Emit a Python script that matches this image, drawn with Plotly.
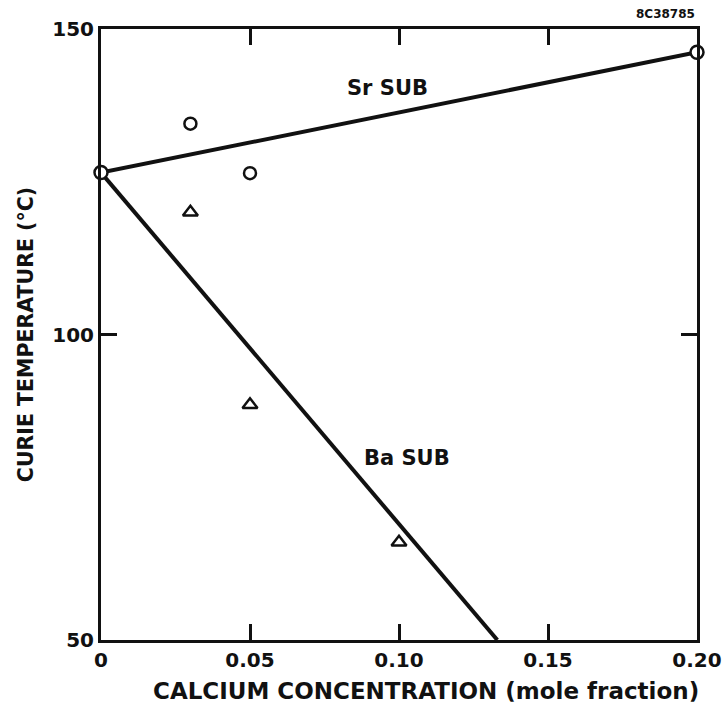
import plotly.graph_objects as go

# Calcium concentration (mole fraction) and Curie temperature (°C)
sr_fit_x = [0.0, 0.20]
sr_fit_y = [126.5, 146.2]
ba_fit_x = [0.0, 0.133]
ba_fit_y = [126.5, 50.0]

sr_pts_x = [0.03, 0.05]
sr_pts_y = [134.5, 126.4]
ba_pts_x = [0.03, 0.05, 0.10]
ba_pts_y = [120.0, 88.5, 66.0]
end_pts_x = [0.0, 0.20]
end_pts_y = [126.5, 146.2]

x_ticks = [0, 0.05, 0.10, 0.15, 0.20]
x_labels = ["0", "0.05", "0.10", "0.15", "0.20"]
y_ticks = [50, 100, 150]
y_labels = ["50", "100", "150"]

FONT = "DejaVu Sans"
INK = "#111111"

fig = go.Figure()
fig.add_trace(go.Scatter(x=sr_fit_x, y=sr_fit_y, mode="lines",
                         line=dict(color=INK, width=4), cliponaxis=False))
fig.add_trace(go.Scatter(x=ba_fit_x, y=ba_fit_y, mode="lines",
                         line=dict(color=INK, width=4), cliponaxis=False))
fig.add_trace(go.Scatter(x=sr_pts_x, y=sr_pts_y, mode="markers",
                         marker=dict(symbol="circle-open", size=12, color=INK,
                                     line=dict(width=2.5, color=INK))))
fig.add_trace(go.Scatter(x=ba_pts_x, y=ba_pts_y, mode="markers",
                         marker=dict(symbol="triangle-up-open", size=13, color=INK,
                                     line=dict(width=2.5, color=INK))))
fig.add_trace(go.Scatter(x=end_pts_x, y=end_pts_y, mode="markers", cliponaxis=False,
                         marker=dict(symbol="circle", size=13, color="white",
                                     line=dict(width=2.5, color=INK))))

axis_common = dict(
    showline=True, linecolor=INK, linewidth=3, mirror="ticks",
    ticks="inside", ticklen=16, tickwidth=2.5, tickcolor=INK,
    showgrid=False, zeroline=False, automargin=False,
    tickfont=dict(family=FONT, size=20, color=INK, weight="bold"),
)

fig.update_layout(
    width=726, height=705,
    margin=dict(l=101, r=29, t=29, b=65),
    paper_bgcolor="white", plot_bgcolor="white",
    showlegend=False,
    xaxis=dict(range=[0, 0.20], tickvals=x_ticks, ticktext=x_labels, **axis_common),
    yaxis=dict(range=[50, 150], tickvals=y_ticks, ticktext=y_labels,
               title=dict(text="CURIE TEMPERATURE (°C)", standoff=14,
                          font=dict(family=FONT, size=20.5, color=INK, weight="bold")),
               **axis_common),
    annotations=[
        dict(x=0.545, y=0, xref="paper", yref="paper", yanchor="middle", yshift=-51,
             text="CALCIUM CONCENTRATION (mole fraction)", showarrow=False,
             font=dict(family=FONT, size=23, color=INK, weight="bold")),
        dict(x=0.0963, y=140.3, xref="x", yref="y", text="Sr SUB", showarrow=False,
             font=dict(family=FONT, size=21, color=INK, weight="bold")),
        dict(x=0.1027, y=79.8, xref="x", yref="y", text="Ba SUB", showarrow=False,
             font=dict(family=FONT, size=21, color=INK, weight="bold")),
        dict(x=1.0, y=1.0, xref="paper", yref="paper", xanchor="right", yanchor="bottom",
             yshift=6, text="8C38785", showarrow=False,
             font=dict(family=FONT, size=12, color=INK, weight="bold")),
    ],
)

fig.write_html("out.html")
